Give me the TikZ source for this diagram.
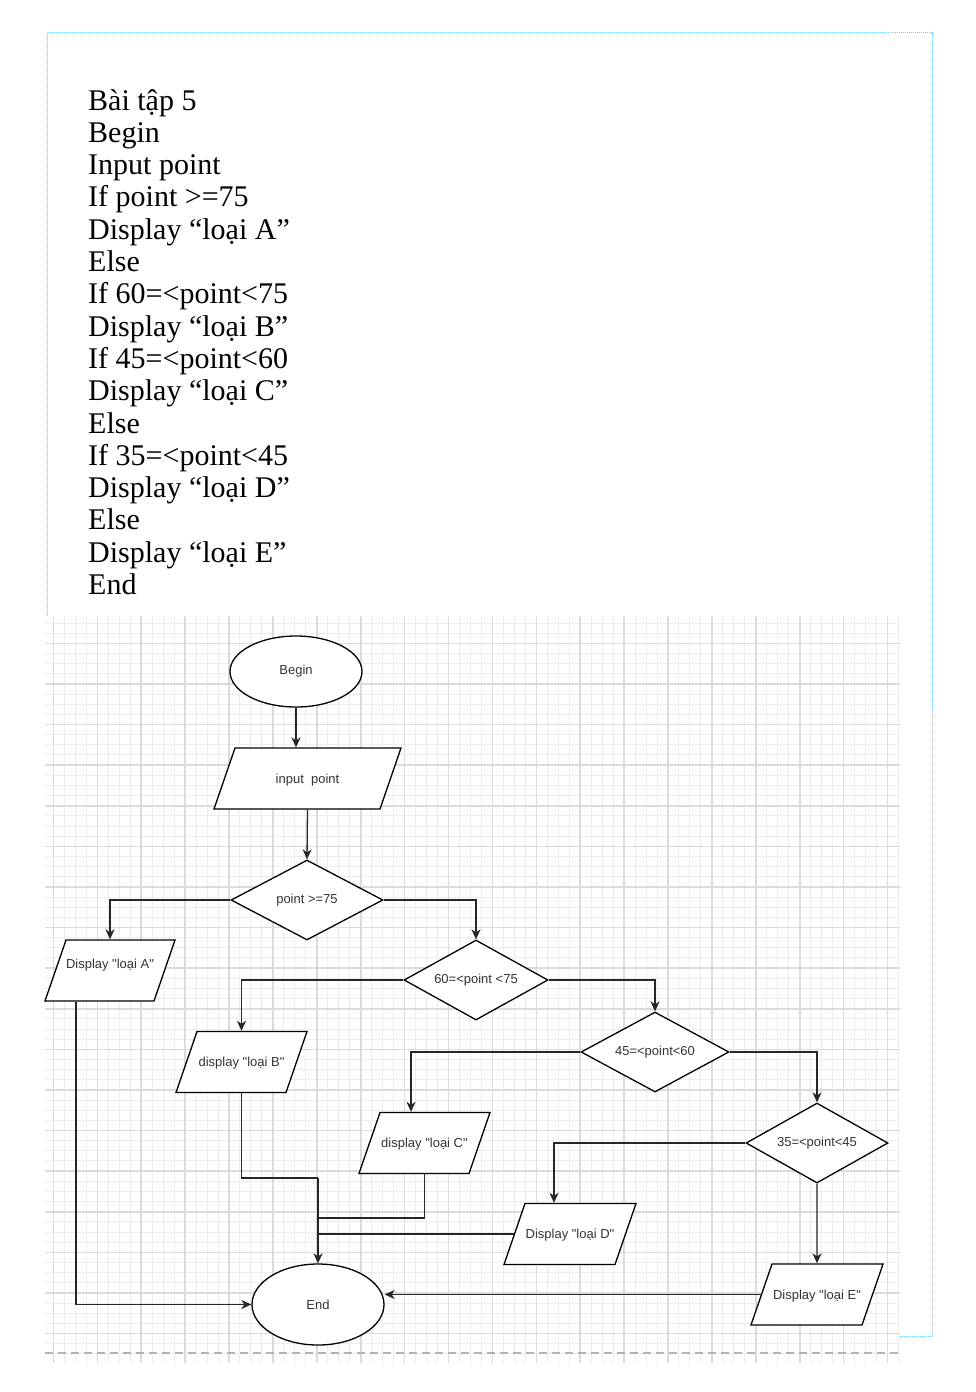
\documentclass[tikz,border=0pt]{standalone}
\usepackage{fontspec}
\setmainfont{Liberation Serif}
\newfontfamily\flowfont{Liberation Sans}
\usetikzlibrary{shapes.geometric, arrows.meta}
\definecolor{framecol}{RGB}{110,200,250}

\begin{document}
\begin{tikzpicture}[x=1pt, y=-1pt,
  every node/.style={font=\flowfont\fontsize{13}{15}\selectfont, text=black!80},
  code/.style={font=\rmfamily\fontsize{30}{32}\selectfont, text=black, inner sep=0pt, anchor=base west},
  term/.style={draw, ellipse, fill=white, line width=1.3pt, minimum width=132pt, inner sep=0pt},
  io/.style={draw, trapezium, trapezium left angle=71, trapezium right angle=109,
    trapezium stretches body, fill=white, text height=35pt, text depth=26pt,
    line width=1.3pt, inner sep=0pt},
  cond/.style={draw, diamond, aspect=1.8, fill=white, minimum height=80pt, line width=1.3pt, inner sep=0pt},
  flow/.style={line width=1.3pt, black!85},
  arr/.style={flow, -{Stealth[length=10pt, width=9pt, inset=3pt]}},
  gridminor/.style={line width=1pt, black!7},
  gridmajor/.style={line width=1.6pt, black!14},
]
\useasboundingbox (0,0) rectangle (975,1392);

% frame and grid
\draw[line width=1pt, framecol, dash pattern=on 1pt off 1pt]
  (47.5,32.5) rectangle (932.5,1336.5);
\fill[white] (45,616) rectangle (900,1363);
\foreach \i in {-4,...,73}
  \draw[gridminor] ({97.3+10.975*\i},616) -- ({97.3+10.975*\i},1363);
\foreach \j in {-2,...,70}
  \draw[gridminor] (45,{643.3+10.15*\j}) -- (900,{643.3+10.15*\j});
\foreach \i in {-1,...,18}
  \draw[gridmajor] ({97.3+43.9*\i},616) -- ({97.3+43.9*\i},1363);
\foreach \j in {0,...,17}
  \draw[gridmajor] (45,{643.3+40.6*\j}) -- (900,{643.3+40.6*\j});
\draw[line width=1.2pt, black!30, dash pattern=on 8pt off 5pt] (45,1353) -- (900,1353);

% pseudo code
\foreach \txt [count=\k from 0] in {Bài tập 5, Begin, Input point, If point >=75,
    Display “loại A”, Else, If 60=<point<75, Display “loại B”, If 45=<point<60,
    Display “loại C”, Else, If 35=<point<45, Display “loại D”, Else,
    Display “loại E”, End}
  \node[code] (line\k) at (88,{110+32.3*\k}) {\txt};

% flowchart
\node[term, minimum height=71pt] (begin) at (296,671.5) {Begin};
\node[io, minimum width=187pt] (inp) at (307.5,778.5) {input\ \ point};
\node[cond, minimum width=152pt] (d1) at (307,900) {point >=75};
\node[io, minimum width=130pt, text height=28pt, text depth=33pt] (dA) at (110,970.5) {Display "loại A"};
\node[cond, minimum width=144pt] (d2) at (476,980) {60=<point <75};
\node[io, minimum width=131pt] (dB) at (241.5,1062) {display "loại B"};
\node[cond, minimum width=148pt] (d3) at (655,1052) {45=<point<60};
\node[io, minimum width=131pt] (dC) at (424.5,1143) {display "loại C"};
\node[cond, minimum width=142pt] (d4) at (817,1143) {35=<point<45};
\node[io, minimum width=132pt] (dD) at (570,1234) {Display "loại D"};
\node[io, minimum width=132pt] (dE) at (817,1294.5) {Display "loại E"};
\node[term, minimum height=81pt] (endn) at (318,1304.5) {End};

\coordinate (jB) at (318,1178);
\coordinate (jC) at (318,1218);

\draw[arr] (begin.south) -- (begin.south |- inp.north);
\draw[arr] (inp.south) -- (d1.north);
\draw[arr] (d1.west) -| (dA.north);
\draw[arr] (d1.east) -| (d2.north);
\draw[arr] (d2.west) -| (dB.north);
\draw[arr] (d2.east) -| (d3.north);
\draw[arr] (d3.west) -| ([xshift=-13.5pt]dC.north);
\draw[arr] (d3.east) -| (d4.north);
\draw[arr] (d4.west) -| ([xshift=-16pt]dD.north);
\draw[arr] (d4.south) -- (dE.north);
\draw[arr] ([xshift=-34pt]dA.south) |- (endn.west);
\draw[flow] (dB.south) |- (jB);
\draw[arr] (jB) -- (endn.north);
\draw[flow] (dC.south) |- (jC);
\draw[flow] (dD.west) -- (dD.west -| jC);
\draw[arr] (dE.west) -- (endn.east |- dE.west);
\end{tikzpicture}
\end{document}
